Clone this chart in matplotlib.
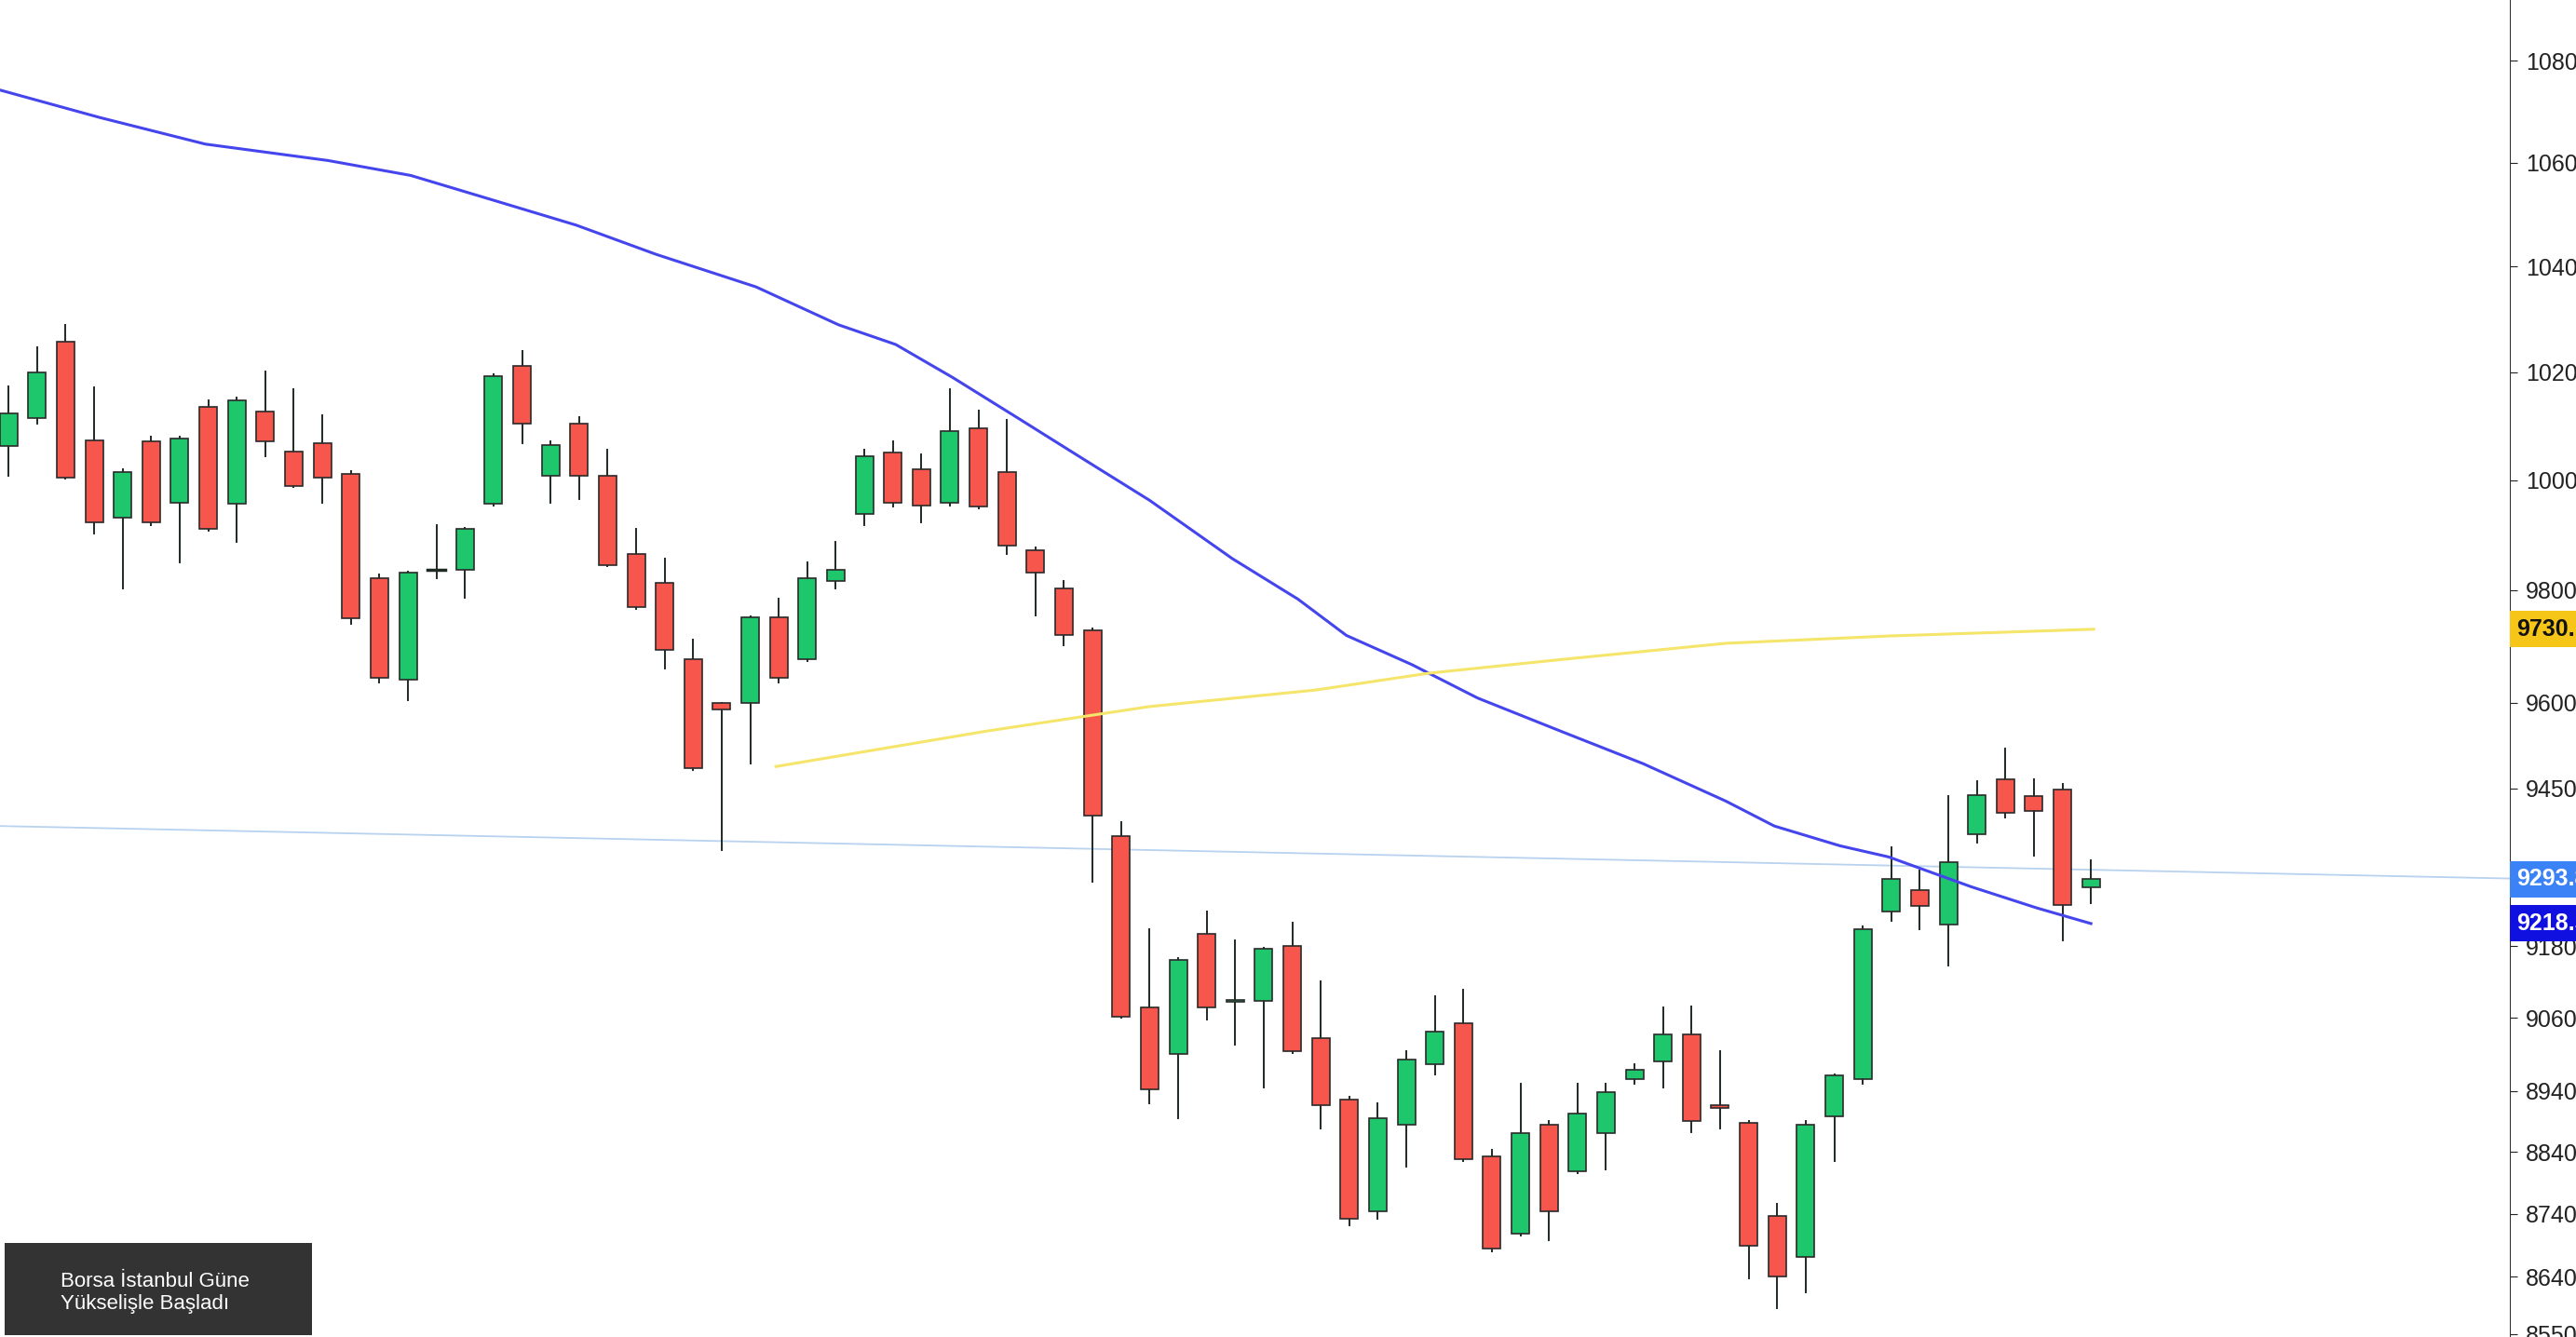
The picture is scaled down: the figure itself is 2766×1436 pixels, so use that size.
import matplotlib
matplotlib.use("Agg")
import matplotlib.pyplot as plt
from matplotlib.patches import Rectangle
from matplotlib.ticker import NullLocator, FixedLocator, FixedFormatter

plt.rcParams['font.family'] = ['Liberation Sans', 'DejaVu Sans']

opens  = [10062,10114,10258,10074,9932,10071,9959,10135,9957,10126,10053,10068,10011,9822,9640,9836,9837,9957,10212,10008,
          10105,10008,9866,9813,9676,9599,9599,9752,9676,9816,9938,10050,10020,9959,10096,10014,9872,9804,9728,9368,
          9077,9000,9201,9087,9088,9181,9027,8925,8745,8884,8984,9052,8833,8709,8884,8809,8871,8959,8989,9033,
          8916,8887,8737,8672,8898,8959,9239,9275,9217,9371,9465,9437,9448,9280]
closes = [10123,10199,10005,9923,10014,9923,10077,9911,10147,10071,9990,10005,9749,9643,9831,9838,9911,10193,10105,10065,
          10008,9845,9769,9693,9485,9588,9752,9643,9822,9837,10044,9959,9954,10090,9951,9881,9831,9719,9403,9063,
          8943,9157,9077,9090,9176,9005,8917,8732,8895,8992,9038,8828,8685,8871,8745,8903,8938,8975,9033,8890,
          8912,8690,8641,8884,8965,9209,9295,9248,9323,9439,9408,9411,9250,9294]
highs  = [10174,10246,10289,10171,10020,10080,10080,10147,10153,10202,10168,10120,10017,9828,9833,9917,9913,10196,10240,10071,
          10117,10056,9911,9857,9711,9600,9753,9784,9851,9887,10056,10071,10047,10168,10129,10111,9878,9816,9731,9391,
          9209,9160,9239,9190,9178,9220,9121,8930,8919,9005,9096,9107,8844,8951,8890,8951,8951,8984,9077,9079,
          9005,8890,8756,8890,8967,9214,9349,9309,9437,9462,9519,9465,9457,9326]
lows   = [10008,10105,10002,9902,9804,9917,9851,9908,9887,10044,9987,9959,9740,9635,9605,9822,9787,9954,10068,9959,
          9966,9843,9766,9661,9482,9343,9493,9635,9674,9804,9917,9951,9923,9954,9948,9866,9755,9702,9289,9060,
          8919,8895,9057,9016,8946,9002,8879,8722,8732,8817,8967,8825,8680,8706,8698,8806,8812,8951,8946,8873,
          8879,8638,8591,8615,8825,8951,9223,9209,9148,9357,9400,9334,9190,9253]

ma_fast_x = [-0.3,3.2,6.9,11.2,14.1,17.0,19.9,22.7,26.2,29.1,31.1,33.1,35.4,37.7,40.0,42.9,45.2,46.9,49.2,51.5,54.4,57.3,60.2,61.9,64.2,65.9,68.8,71.1,73.0]
ma_fast   = [10742,10688,10636,10604,10575,10527,10479,10423,10361,10289,10252,10190,10114,10038,9963,9857,9784,9719,9667,9608,9550,9493,9428,9385,9351,9332,9281,9245,9218.5]
ma_slow_x = [26.9,34.3,40.0,45.8,49.8,54.4,60.2,65.9,73.1]
ma_slow   = [9488,9550,9593,9622,9652,9676,9705,9718,9730.1]
trend_x = [-0.3,87.7]
trend_y = [9385,9295]
last_price = 9293.8

yticks = [10800,10600,10400,10200,10000,9800,9600,9450,9180,9060,8940,8840,8740,8640,8550]
title = "Borsa İstanbul Güne\nYükselişle Başladı"

fig = plt.figure(figsize=(27.66,14.36), dpi=100)
ax = fig.add_axes([0,0,1528/1568,1])
ax.set_yscale('log')
ax.set_xlim(-0.3,87.7)
ax.set_ylim(8545,10921)

green, red = '#1ec76c', '#f6564c'
w = 0.62
for i,(o,c,h,l) in enumerate(zip(opens,closes,highs,lows)):
    col = green if c >= o else red
    ax.plot([i,i],[l,h],color='#1e2a22',lw=1.4,zorder=2)
    lo, hi = min(o,c), max(o,c)
    if hi - lo < 3:
        ax.plot([i-w/2,i+w/2],[o,o],color='#1e2a22',lw=2.5,zorder=3)
    else:
        ax.add_patch(Rectangle((i-w/2,lo),w,hi-lo,facecolor=col,edgecolor='#2a2a2a',lw=1.2,zorder=3))

ax.plot(trend_x,trend_y,color='#b8d2f0',lw=1.3,zorder=1)
ax.plot(ma_fast_x,ma_fast,color='#4545ee',lw=2.2,zorder=4)
ax.plot(ma_slow_x,ma_slow,color='#f5e56a',lw=2.2,zorder=4)

for s in ['top','left','bottom']:
    ax.spines[s].set_visible(False)
ax.spines['right'].set_color('#333333')
ax.set_xticks([])
ax.yaxis.tick_right()
ax.yaxis.set_minor_locator(NullLocator())
ax.yaxis.set_major_locator(FixedLocator(yticks))
ax.yaxis.set_major_formatter(FixedFormatter([f"{v:.2f}" for v in yticks]))
ax.tick_params(axis='y',labelsize=18,colors='#222222',length=6,pad=6)

def tag(v, fc, tc):
    ax.annotate(f"{v:.2f}", xy=(1.0, v), xycoords=('axes fraction','data'),
                xytext=(5,0), textcoords='offset points', va='center', ha='left',
                fontsize=18, fontweight='bold', color=tc, annotation_clip=False,
                bbox=dict(boxstyle='square,pad=0.3', fc=fc, ec='none'), zorder=10)
tag(ma_slow[-1], '#f5c518', '#111111')
tag(last_price, '#3b82f6', 'white')
tag(ma_fast[-1], '#1010e0', 'white')

fig.patches.append(Rectangle((3/1568,1-813/814),187/1568,56/814,transform=fig.transFigure,
                             facecolor='#333333',edgecolor='none',zorder=20))
fig.text(37/1568,1-787/814,title,fontsize=16,color='white',va='center',ha='left',zorder=21)

fig.savefig('out.png',dpi=100)
